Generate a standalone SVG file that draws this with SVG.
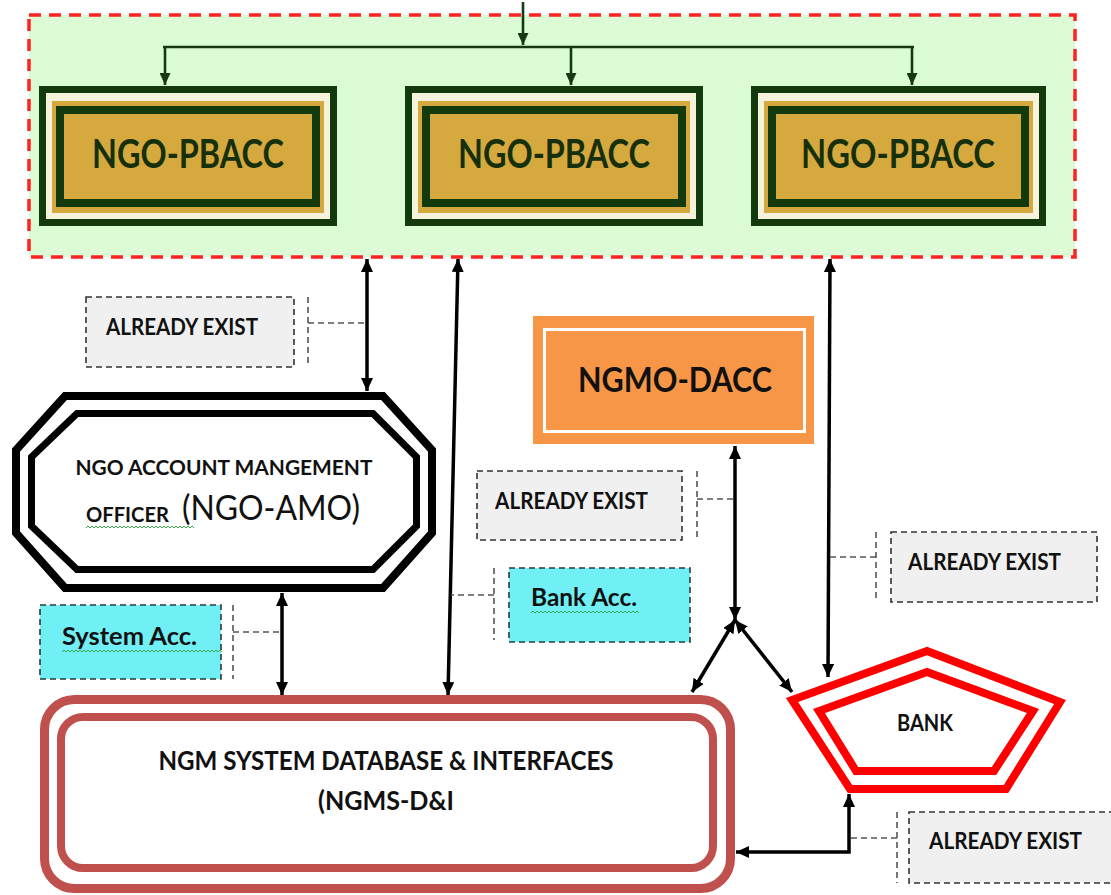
<svg xmlns="http://www.w3.org/2000/svg" width="1111" height="895" viewBox="0 0 1111 895">
<style>
  text { font-family: Lato, "Liberation Sans", Arial, sans-serif; fill: #111; }
  .pb { font-size: 40px; font-weight: bold; fill: #16300c; }
  .ae { font-size: 23px; font-weight: bold; }
  .acc { font-size: 25px; font-weight: bold; }
  .g { stroke: #163a10; stroke-width: 2.6; fill: none; }
  .k { stroke: #000; stroke-width: 3.5; fill: none; }
  .br { stroke: #555; stroke-width: 1.6; stroke-dasharray: 6 4; fill: none; }
  .aebox { fill: #f0f0f0; stroke: #333; stroke-width: 1.6; stroke-dasharray: 6 4; }
  .accbox { fill: #70eff5; stroke: #2a3a3a; stroke-width: 1.6; stroke-dasharray: 6 4; }
  .sq { stroke: #3aa84a; stroke-width: 1; fill: none; }
  .cream { fill: #f6f3dc; }
  .fr1 { fill: none; stroke: #123a0c; stroke-width: 7; }
  .gold { fill: #d6a93f; }
  .fr2 { fill: #d6a93f; stroke: #123a0c; stroke-width: 8; }
</style>
<defs>
  <marker id="ak" markerUnits="userSpaceOnUse" markerWidth="13" markerHeight="12" refX="13" refY="6" orient="auto-start-reverse">
    <path d="M0,0 L13,6 L0,12 z" fill="#000"/>
  </marker>
  <marker id="ag" markerUnits="userSpaceOnUse" markerWidth="12" markerHeight="11" refX="12" refY="5.5" orient="auto-start-reverse">
    <path d="M0,0 L12,5.5 L0,11 z" fill="#163a10"/>
  </marker>
</defs>

<g id="container">
  <rect x="29" y="15" width="1046" height="242" fill="#dcfcd6" stroke="#f22" stroke-width="3.5" stroke-dasharray="12 8"/>
</g>

<g id="pbacc1">
  <rect class="cream" x="39" y="86" width="298" height="140"/>
  <rect class="fr1" x="42.5" y="89.5" width="291" height="133"/>
  <rect class="gold" x="52" y="101" width="272" height="112"/>
  <rect class="fr2" x="60" y="110" width="256" height="93"/>
  <text class="pb" x="188" y="168" text-anchor="middle" textLength="192" lengthAdjust="spacingAndGlyphs">NGO-PBACC</text>
</g>
<g id="pbacc2">
  <rect class="cream" x="405" y="86" width="298" height="140"/>
  <rect class="fr1" x="408.5" y="89.5" width="291" height="133"/>
  <rect class="gold" x="418" y="101" width="272" height="112"/>
  <rect class="fr2" x="426" y="110" width="256" height="93"/>
  <text class="pb" x="554" y="168" text-anchor="middle" textLength="192" lengthAdjust="spacingAndGlyphs">NGO-PBACC</text>
</g>
<g id="pbacc3">
  <rect class="cream" x="751" y="86" width="295" height="140"/>
  <rect class="fr1" x="754.5" y="89.5" width="288" height="133"/>
  <rect class="gold" x="764" y="101" width="269" height="112"/>
  <rect class="fr2" x="772" y="110" width="253" height="93"/>
  <text class="pb" x="898" y="168" text-anchor="middle" textLength="194" lengthAdjust="spacingAndGlyphs">NGO-PBACC</text>
</g>

<g id="ngo-amo">
  <polygon points="65,396 383,396 432,450 432,533 383,588 65,588 16,533 16,450" fill="#fff" stroke="#000" stroke-width="8"/>
  <polygon points="77,413.5 373,413.5 416.5,457 416.5,526 373,569.5 77,569.5 31.5,526 31.5,457" fill="#fff" stroke="#000" stroke-width="7"/>
  <text x="224" y="475" text-anchor="middle" font-size="21" font-weight="bold" textLength="297" lengthAdjust="spacingAndGlyphs">NGO ACCOUNT MANGEMENT</text>
  <text x="86" y="522" font-size="21" font-weight="bold" textLength="83" lengthAdjust="spacingAndGlyphs">OFFICER</text>
  <text x="182" y="520" font-size="34" textLength="178" lengthAdjust="spacingAndGlyphs">(NGO-AMO)</text>
  <path class="sq" d="M86,528 l2,-2 2,2 2,-2 2,2 2,-2 2,2 2,-2 2,2 2,-2 2,2 2,-2 2,2 2,-2 2,2 2,-2 2,2 2,-2 2,2 2,-2 2,2 2,-2 2,2 2,-2 2,2 2,-2 2,2 2,-2 2,2 2,-2 2,2 2,-2 2,2 2,-2 2,2 2,-2 2,2 2,-2 2,2 2,-2 2,2 2,-2 2,2 2,-2 2,2 2,-2 2,2 2,-2 2,2 2,-2 2,2 2,-2 2,2 2,-2 2,2"/>
</g>

<g id="ngmo-dacc">
  <rect x="533" y="316" width="281" height="128" fill="#f79646"/>
  <rect x="544.5" y="329.5" width="260" height="102" fill="none" stroke="#fff" stroke-width="3"/>
  <text x="675" y="392" text-anchor="middle" font-size="35" font-weight="bold" textLength="194" lengthAdjust="spacingAndGlyphs">NGMO-DACC</text>
</g>

<g id="database">
  <rect x="44.5" y="699.5" width="686" height="189" rx="30" fill="#fff" stroke="#c0504d" stroke-width="9"/>
  <rect x="61" y="717" width="652" height="151" rx="22" fill="#fff" stroke="#c0504d" stroke-width="8"/>
  <text x="386" y="770" text-anchor="middle" font-size="27" font-weight="bold" textLength="455" lengthAdjust="spacingAndGlyphs">NGM SYSTEM DATABASE &amp; INTERFACES</text>
  <text x="386" y="810" text-anchor="middle" font-size="27" font-weight="bold" textLength="136" lengthAdjust="spacingAndGlyphs">(NGMS-D&amp;I</text>
</g>

<g id="bank">
  <polygon points="927,651 1060,702 1006,789 850,789 792,700" fill="#fff" stroke="#f00" stroke-width="8"/>
  <polygon points="927,672 1033,711 994,771 856,771 819,711" fill="#fff" stroke="#f00" stroke-width="8"/>
  <text x="925" y="731" text-anchor="middle" font-size="23" font-weight="bold" textLength="56" lengthAdjust="spacingAndGlyphs">BANK</text>
</g>

<g id="already-exist-1">
  <rect class="aebox" x="86" y="297" width="208" height="70"/>
  <text class="ae" x="106" y="335" textLength="152" lengthAdjust="spacingAndGlyphs">ALREADY EXIST</text>
</g>
<g id="already-exist-2">
  <rect class="aebox" x="477" y="471" width="205" height="69"/>
  <text class="ae" x="495" y="509" textLength="153" lengthAdjust="spacingAndGlyphs">ALREADY EXIST</text>
</g>
<g id="already-exist-3">
  <rect class="aebox" x="891" y="532" width="206" height="70"/>
  <text class="ae" x="908" y="570" textLength="153" lengthAdjust="spacingAndGlyphs">ALREADY EXIST</text>
</g>
<g id="already-exist-4">
  <rect class="aebox" x="909" y="812" width="215" height="71"/>
  <text class="ae" x="929" y="849" textLength="153" lengthAdjust="spacingAndGlyphs">ALREADY EXIST</text>
</g>

<g id="system-acc">
  <rect class="accbox" x="40" y="605" width="181" height="74"/>
  <text class="acc" x="62" y="645" textLength="135" lengthAdjust="spacingAndGlyphs">System Acc.</text>
  <path class="sq" d="M62,652 l2,-2 2,2 2,-2 2,2 2,-2 2,2 2,-2 2,2 2,-2 2,2 2,-2 2,2 2,-2 2,2 2,-2 2,2 2,-2 2,2 2,-2 2,2 2,-2 2,2 2,-2 2,2 2,-2 2,2 2,-2 2,2 2,-2 2,2 2,-2 2,2 2,-2 2,2 2,-2 2,2 2,-2 2,2 2,-2 2,2 2,-2 2,2 2,-2 2,2 2,-2 2,2 2,-2 2,2 2,-2 2,2 2,-2 2,2 2,-2 2,2 2,-2 2,2 2,-2 2,2 2,-2 2,2 2,-2 2,2 2,-2 2,2 2,-2 2,2 2,-2 2,2 2,-2 2,2 2,-2 2,2 2,-2 2,2 2,-2 2,2 2,-2 2,2 2,-2 2,2"/>
</g>
<g id="bank-acc">
  <rect class="accbox" x="509" y="568" width="181" height="74"/>
  <text class="acc" x="531" y="606" textLength="106" lengthAdjust="spacingAndGlyphs">Bank Acc.</text>
  <path class="sq" d="M531,613 l2,-2 2,2 2,-2 2,2 2,-2 2,2 2,-2 2,2 2,-2 2,2 2,-2 2,2 2,-2 2,2 2,-2 2,2 2,-2 2,2 2,-2 2,2 2,-2 2,2 2,-2 2,2 2,-2 2,2 2,-2 2,2 2,-2 2,2 2,-2 2,2 2,-2 2,2 2,-2 2,2 2,-2 2,2 2,-2 2,2 2,-2 2,2 2,-2 2,2 2,-2 2,2 2,-2 2,2 2,-2 2,2 2,-2 2,2 2,-2 2,2"/>
</g>

<g id="connectors">
  <line class="g" x1="523" y1="2" x2="523" y2="45" marker-end="url(#ag)"/>
  <line class="g" x1="163" y1="47" x2="914" y2="47"/>
  <line class="g" x1="165" y1="47" x2="165" y2="85" marker-end="url(#ag)"/>
  <line class="g" x1="571" y1="47" x2="571" y2="85" marker-end="url(#ag)"/>
  <line class="g" x1="912" y1="47" x2="912" y2="85" marker-end="url(#ag)"/>

  <line class="k" x1="367" y1="259" x2="367" y2="391" marker-start="url(#ak)" marker-end="url(#ak)"/>
  <line class="k" x1="458" y1="259" x2="448" y2="695" marker-start="url(#ak)" marker-end="url(#ak)"/>
  <line class="k" x1="830" y1="259" x2="828" y2="677" marker-start="url(#ak)" marker-end="url(#ak)"/>
  <line class="k" x1="282" y1="593" x2="282" y2="695" marker-start="url(#ak)" marker-end="url(#ak)"/>
  <line class="k" x1="735" y1="446" x2="735" y2="620" marker-start="url(#ak)" marker-end="url(#ak)"/>
  <line class="k" x1="735" y1="620" x2="692" y2="692" marker-start="url(#ak)" marker-end="url(#ak)"/>
  <line class="k" x1="735" y1="620" x2="792" y2="692" marker-start="url(#ak)" marker-end="url(#ak)"/>
  <polyline class="k" points="849,794 849,852 736,852" marker-start="url(#ak)" marker-end="url(#ak)"/>

  <path class="br" d="M308,297 V367 M308,323 H367"/>
  <path class="br" d="M697,471 V540 M697,499 H735"/>
  <path class="br" d="M876,532 V602 M876,557 H829"/>
  <path class="br" d="M897,812 V883 M897,838 H849"/>
  <path class="br" d="M233,605 V679 M233,632 H282"/>
  <path class="br" d="M494,568 V640 M494,595 H451"/>
</g>
</svg>
